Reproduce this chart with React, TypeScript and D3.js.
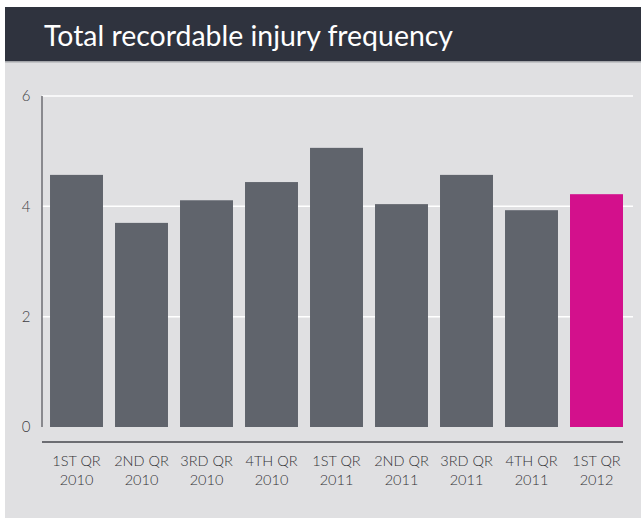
import React from "react";
import * as d3 from "d3";

const categories = ["1ST QR|2010", "2ND QR|2010", "3RD QR|2010", "4TH QR|2010", "1ST QR|2011", "2ND QR|2011", "3RD QR|2011", "4TH QR|2011", "1ST QR|2012"];
const values = [4.57, 3.7, 4.11, 4.44, 5.06, 4.04, 4.57, 3.93, 4.22];
const highlight = [false, false, false, false, false, false, false, false, true];
const yTicks = [0, 2, 4, 6];
const title = "Total recordable injury frequency";

const W = 641;
const H = 518;

export default function App() {
  const x = d3.scaleBand<string>().domain(categories).range([44, 629]).paddingInner(0.185).paddingOuter(0.0925);
  const y = d3.scaleLinear().domain([0, 6]).range([427, 96]);
  const font = "Lato, 'Open Sans', sans-serif";
  return (
    <div style={{ position: "absolute", left: 0, top: 0 }}>
      <svg width={W} height={H} style={{ display: "block" }}>
        <rect x={0} y={0} width={W} height={H} fill="#ffffff" />
        <rect x={5} y={62} width={W - 5} height={H - 62} fill="#e0e0e2" />
        <rect x={5} y={7} width={W - 5} height={54} fill="#2f333e" />
        <rect x={5} y={61} width={W - 5} height={1.5} fill="#a4a6aa" />
        <text x={44} y={46} fill="#ffffff" fontFamily={font} fontSize={29} textLength={409} lengthAdjust="spacingAndGlyphs">
          {title}
        </text>
        {yTicks.filter((t) => t > 0).map((t) => (
          <line key={"g" + t} x1={42} x2={633} y1={y(t)} y2={y(t)} stroke="#ffffff" strokeWidth={1.5} />
        ))}
        <line x1={42} x2={42} y1={y(6)} y2={y(0)} stroke="#6c6d72" strokeWidth={1.5} />
        {yTicks.map((t) => (
          <text key={"t" + t} x={26} y={y(t)} dy="0.36em" textAnchor="middle" fill="#3e3e42" fontFamily={font} fontWeight={300} fontSize={15}>
            {t}
          </text>
        ))}
        {categories.map((c, i) => (
          <rect key={c + i} x={x(c)} y={y(values[i])} width={x.bandwidth()} height={y(0) - y(values[i])} fill={highlight[i] ? "#d3108c" : "#60646c"} />
        ))}
        <line x1={42} x2={623} y1={442} y2={442} stroke="#6c6d72" strokeWidth={2} />
        {categories.map((c, i) => {
          const [a, b] = c.split("|");
          const cx = (x(c) as number) + x.bandwidth() / 2;
          return (
            <text key={"l" + c + i} x={cx} textAnchor="middle" fill="#333337" fontFamily={font} fontWeight={300} fontSize={14.5}>
              <tspan x={cx} y={466}>{a}</tspan>
              <tspan x={cx} y={485}>{b}</tspan>
            </text>
          );
        })}
      </svg>
    </div>
  );
}
